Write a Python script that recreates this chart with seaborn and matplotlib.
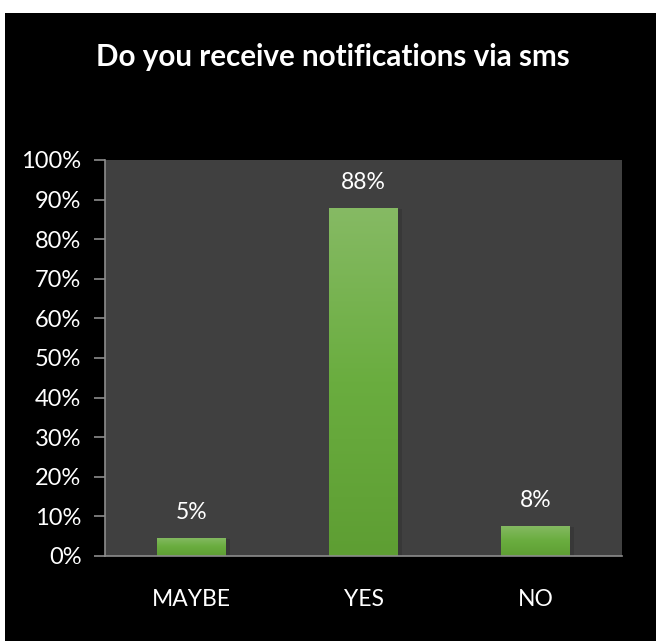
import matplotlib
matplotlib.use("Agg")
import matplotlib.pyplot as plt
import matplotlib.patches as mpatches
import matplotlib.patheffects as pe
from matplotlib.ticker import PercentFormatter
from matplotlib.colors import LinearSegmentedColormap
import numpy as np
import pandas as pd
import seaborn as sns

categories = ["MAYBE", "YES", "NO"]
values = [4.6, 87.9, 7.6]
labels = ["5%", "88%", "8%"]
title = "Do you receive notifications via sms"

sns.set_theme(style="dark")
plt.rcParams['font.family'] = ['Lato', 'DejaVu Sans']

W, H = 656, 641
fig = plt.figure(figsize=(W / 100, H / 100), dpi=100, facecolor="white")
# black chart area with white margin at top/left
bg = mpatches.Rectangle((5 / W, 0), 1, (H - 13) / H, transform=fig.transFigure,
                        facecolor="black", edgecolor="none", zorder=-10)
fig.add_artist(bg)

ax = fig.add_axes([105 / W, (H - 556) / H, (622 - 105) / W, (556 - 160) / H])
ax.set_zorder(1)
ax.set_facecolor("#404040")

df = pd.DataFrame({"cat": categories, "val": values})
sns.barplot(data=df, x="cat", y="val", ax=ax, color="#6aab3e", width=0.4,
            saturation=1, edgecolor="none", zorder=3)

# gradient fill + soft shadow
grad = np.linspace(0, 1, 256).reshape(-1, 1)
cmap = LinearSegmentedColormap.from_list("g", ["#5e9e33", "#6aad3f", "#86ba64"])
for p, lab in zip(ax.patches, labels):
    x0, y0 = p.get_x(), p.get_y()
    w, h = p.get_width(), p.get_height()
    p.set_path_effects([pe.SimplePatchShadow(offset=(3, -1), shadow_rgbFace="#2a2a2a", alpha=0.35),
                        pe.Normal()])
    im = ax.imshow(grad, extent=[x0, x0 + w, y0, y0 + h], origin="lower", cmap=cmap,
                   aspect="auto", zorder=4)
    im.set_clip_path(p)
    ax.text(x0 + w / 2, y0 + h + 6.5, lab, ha="center", va="center",
            color="white", fontsize=16.5, zorder=5)

ax.set_xlim(-0.5, 2.5)
ax.set_ylim(0, 100)
ax.set_yticks(np.arange(0, 101, 10))
ax.yaxis.set_major_formatter(PercentFormatter(decimals=0))
ax.set_xlabel("")
ax.set_ylabel("")
ax.grid(False)
for s in ["top", "right"]:
    ax.spines[s].set_visible(False)
for s in ["left", "bottom"]:
    ax.spines[s].set_visible(True)
    ax.spines[s].set_color("#8c8c8c")
    ax.spines[s].set_linewidth(1.2)
ax.spines["bottom"].set_zorder(6)
ax.tick_params(axis="y", colors="#8c8c8c", labelcolor="white", labelsize=17,
               length=8, width=1.2, direction="out", pad=9, left=True)
ax.tick_params(axis="x", length=0, labelcolor="white", labelsize=16.5, pad=24)

fig.text(333 / W, 1 - 57 / H, title, ha="center", va="center", color="white",
         fontsize=21.3, fontweight="bold")

fig.savefig("out.png", dpi=100, facecolor="white")
